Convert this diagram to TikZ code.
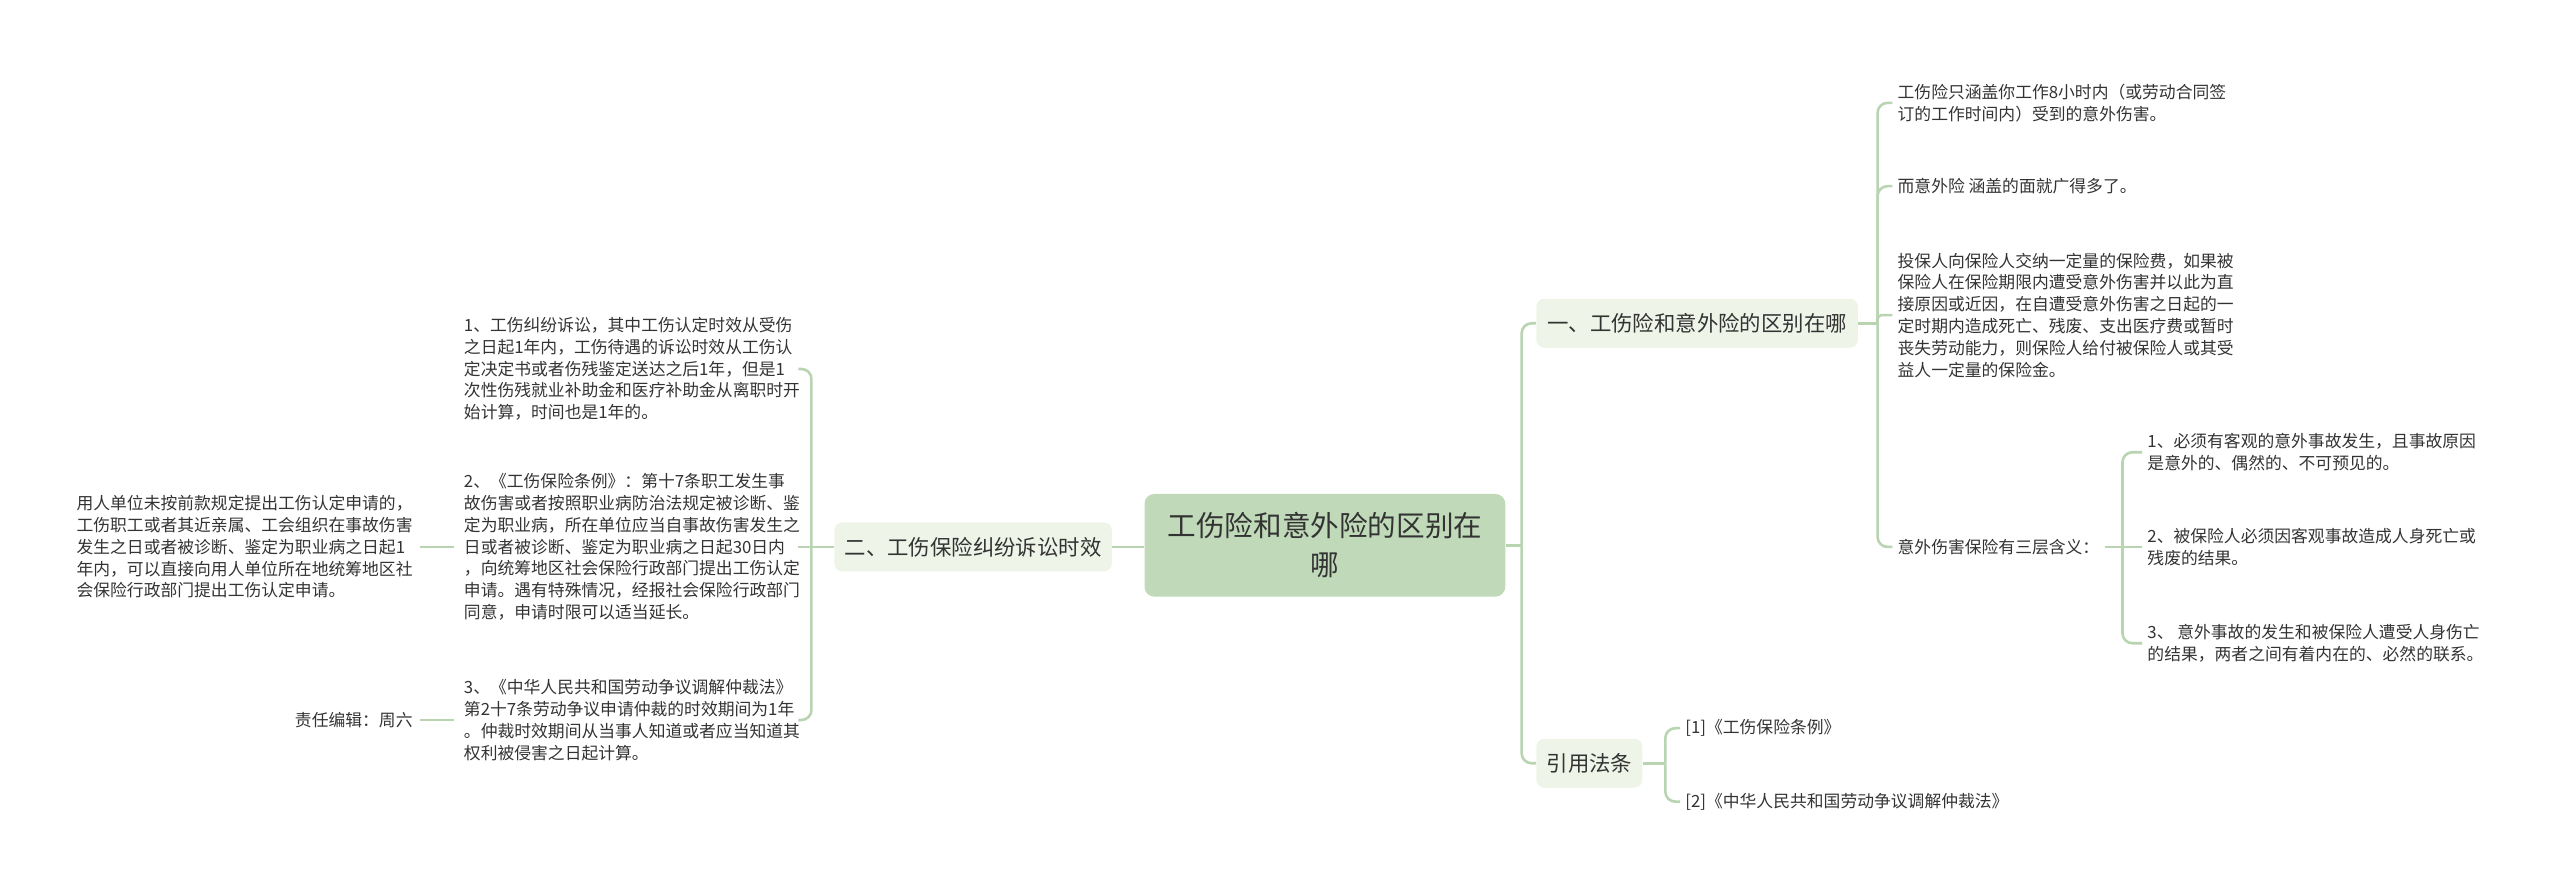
\documentclass[tikz,border=0pt]{standalone}
\usepackage{fontspec}
\setmainfont{Noto Sans CJK SC}
\definecolor{lineC}{HTML}{B9D4B0}
\definecolor{rootC}{HTML}{C0DAB9}
\definecolor{branchC}{HTML}{EEF4E7}
\definecolor{txt}{HTML}{333333}
\begin{document}
\begin{tikzpicture}[x=0.8163pt,y=-0.8163pt,
  conn/.style={draw=lineC,line width=1.3pt,rounded corners=5pt},
  leaf/.style={font=\fontsize{8.4pt}{10.9pt}\selectfont,text=txt,align=left,inner ysep=1pt},
  lleaf/.style={leaf,text width=166pt,inner xsep=1pt,anchor=east},
  rleaf/.style={leaf,inner xsep=2.5pt,anchor=west},
  fleaf/.style={leaf,inner xsep=2.5pt,anchor=east},
  branch/.style={fill=branchC,rounded corners=4pt,text=txt,font=\fontsize{10.7pt}{13pt}\selectfont,minimum height=24.5pt,inner xsep=0pt},
  rootbox/.style={fill=rootC,rounded corners=5pt,text=txt,font=\fontsize{14.3pt}{19.6pt}\selectfont,align=center,minimum width=180.4pt,minimum height=51.4pt}]
\useasboundingbox (0,0) rectangle (1568,546);

% central and branch nodes
\node[rootbox] (root) at (811.5,334) {工伤险和意外险的区别在\\哪};
\node[branch,minimum width=138.8pt] (b2) at (596,335) {二、工伤保险纠纷诉讼时效};
\node[branch,minimum width=160.8pt] (b1) at (1039.5,198) {一、工伤险和意外险的区别在哪};
\node[branch,minimum width=53pt] (b3) at (973.5,467.5) {引用法条};

% left leaves
\node[lleaf] (L1) at (489,226) {1、工伤纠纷诉讼，其中工伤认定时效从受伤\\之日起1年内，工伤待遇的诉讼时效从工伤认\\定决定书或者伤残鉴定送达之后1年，但是1\\次性伤残就业补助金和医疗补助金从离职时开\\始计算，时间也是1年的。};
\node[lleaf] (L2) at (489,335) {2、《工伤保险条例》：第十7条职工发生事\\故伤害或者按照职业病防治法规定被诊断、鉴\\定为职业病，所在单位应当自事故伤害发生之\\日或者被诊断、鉴定为职业病之日起30日内\\，向统筹地区社会保险行政部门提出工伤认定\\申请。遇有特殊情况，经报社会保险行政部门\\同意，申请时限可以适当延长。};
\node[lleaf] (L3) at (489,441) {3、《中华人民共和国劳动争议调解仲裁法》\\第2十7条劳动争议申请仲裁的时效期间为1年\\。仲裁时效期间从当事人知道或者应当知道其\\权利被侵害之日起计算。};
\node[fleaf] (F1) at (256,335) {用人单位未按前款规定提出工伤认定申请的，\\工伤职工或者其近亲属、工会组织在事故伤害\\发生之日或者被诊断、鉴定为职业病之日起1\\年内，可以直接向用人单位所在地统筹地区社\\会保险行政部门提出工伤认定申请。};
\node[fleaf] (F2) at (256,441) {责任编辑：周六};

% right leaves of b1
\node[rleaf] (R1) at (1159,63) {工伤险只涵盖你工作8小时内（或劳动合同签\\订的工作时间内）受到的意外伤害。};
\node[rleaf] (R2) at (1159,114) {而意外险 涵盖的面就广得多了。};
\node[rleaf] (R3) at (1159,193) {投保人向保险人交纳一定量的保险费，如果被\\保险人在保险期限内遭受意外伤害并以此为直\\接原因或近因，在自遭受意外伤害之日起的一\\定时期内造成死亡、残废、支出医疗费或暂时\\丧失劳动能力，则保险人给付被保险人或其受\\益人一定量的保险金。};
\node[rleaf] (R4) at (1159,335) {意外伤害保险有三层含义：};
\node[rleaf] (S1) at (1312,277) {1、必须有客观的意外事故发生，且事故原因\\是意外的、偶然的、不可预见的。};
\node[rleaf] (S2) at (1312,335) {2、被保险人必须因客观事故造成人身死亡或\\残废的结果。};
\node[rleaf] (S3) at (1312,394) {3、 意外事故的发生和被保险人遭受人身伤亡\\的结果，两者之间有着内在的、必然的联系。};
\node[rleaf] (C1) at (1029,446) {[1]《工伤保险条例》};
\node[rleaf] (C2) at (1029,491) {[2]《中华人民共和国劳动争议调解仲裁法》};

% junctions
\coordinate (j0) at (932,334);
\coordinate (j1) at (497,335);
\coordinate (j2) at (1150,198);
\coordinate (j3) at (1300,335);
\coordinate (j4) at (1020,467.5);

% connectors
\draw[conn] (b2.east) -- (b2.east -| root.west);
\draw[conn] (root.east) -- (j0);
\draw[conn] (j0) |- (b1.west);
\draw[conn] (j0) |- (b3.west);

\draw[conn] (b2.west) -- (j1);
\draw[conn] (j1) |- (L1.east);
\draw[conn] (j1) -- (L2.east);
\draw[conn] (j1) |- (L3.east);
\draw[conn,shorten <=4pt,shorten >=1pt] (L2.west |- F1.east) -- (F1.east);
\draw[conn,shorten <=4pt,shorten >=1pt] (L3.west) -- (F2.east);

\draw[conn] (b1.east) -- (j2);
\draw[conn] (j2) |- (R1.west);
\draw[conn] (j2) |- (R2.west);
\draw[conn,rounded corners=2pt] (j2) |- (R3.west);
\draw[conn] (j2) |- (R4.west);

\draw[conn] (R4.east) -- (j3);
\draw[conn] (j3) |- (S1.west);
\draw[conn] (j3) -- (S2.west);
\draw[conn] (j3) |- (S3.west);

\draw[conn] (b3.east) -- (j4);
\draw[conn] (j4) |- (C1.west);
\draw[conn] (j4) |- (C2.west);
\end{tikzpicture}
\end{document}
